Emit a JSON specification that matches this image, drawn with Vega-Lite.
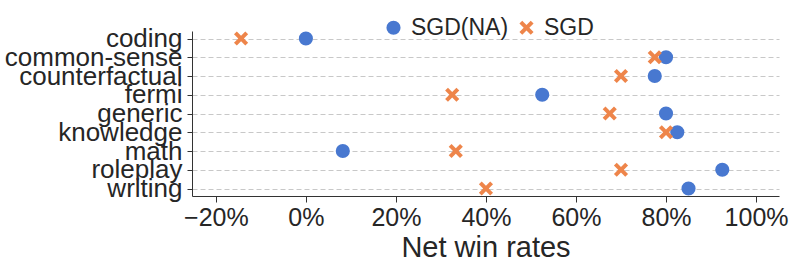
{
  "$schema": "https://vega.github.io/schema/vega-lite/v6.json",
  "width": 587,
  "height": 165,
  "autosize": {"type": "none"},
  "padding": {"left": 192, "top": 31, "right": 10, "bottom": 67},
  "background": "white",
  "config": {
    "font": "Liberation Sans",
    "view": {"stroke": null},
    "axis": {"labelColor": "#262626", "titleColor": "#262626", "domainColor": "#333333", "tickColor": "#333333"}
  },
  "data": {
    "values": [
      {"category": "coding", "method": "SGD(NA)", "rate": 0.0},
      {"category": "coding", "method": "SGD", "rate": -0.144},
      {"category": "common-sense", "method": "SGD(NA)", "rate": 0.80},
      {"category": "common-sense", "method": "SGD", "rate": 0.775},
      {"category": "counterfactual", "method": "SGD(NA)", "rate": 0.775},
      {"category": "counterfactual", "method": "SGD", "rate": 0.70},
      {"category": "fermi", "method": "SGD(NA)", "rate": 0.525},
      {"category": "fermi", "method": "SGD", "rate": 0.325},
      {"category": "generic", "method": "SGD(NA)", "rate": 0.80},
      {"category": "generic", "method": "SGD", "rate": 0.675},
      {"category": "knowledge", "method": "SGD(NA)", "rate": 0.825},
      {"category": "knowledge", "method": "SGD", "rate": 0.80},
      {"category": "math", "method": "SGD(NA)", "rate": 0.082},
      {"category": "math", "method": "SGD", "rate": 0.333},
      {"category": "roleplay", "method": "SGD(NA)", "rate": 0.925},
      {"category": "roleplay", "method": "SGD", "rate": 0.70},
      {"category": "writing", "method": "SGD(NA)", "rate": 0.85},
      {"category": "writing", "method": "SGD", "rate": 0.40}
    ]
  },
  "mark": {"type": "point", "filled": true, "opacity": 1, "strokeWidth": 0, "size": 200},
  "encoding": {
    "x": {
      "field": "rate", "type": "quantitative",
      "scale": {"domain": [-0.253, 1.051], "nice": false, "zero": false},
      "axis": {
        "values": [-0.2, 0, 0.2, 0.4, 0.6, 0.8, 1.0],
        "format": ".0%",
        "title": "Net win rates",
        "grid": false,
        "labelFontSize": 25,
        "titleFontSize": 29,
        "titleFontWeight": "normal",
        "tickSize": 6,
        "labelPadding": 3,
        "titlePadding": 3
      }
    },
    "y": {
      "field": "category", "type": "nominal",
      "sort": ["coding", "common-sense", "counterfactual", "fermi", "generic", "knowledge", "math", "roleplay", "writing"],
      "scale": {"padding": 0.4},
      "axis": {
        "title": null,
        "labelFontSize": 26,
        "tickSize": 5,
        "labelPadding": 5,
        "grid": true,
        "gridDash": [5, 3],
        "gridColor": "#c8c8c8",
        "gridWidth": 1
      }
    },
    "color": {
      "field": "method", "type": "nominal",
      "scale": {"domain": ["SGD(NA)", "SGD"], "range": ["#4878d0", "#ee854a"]},
      "legend": {
        "title": null,
        "orient": "none",
        "direction": "horizontal",
        "legendX": 190,
        "legendY": -15,
        "labelFontSize": 23,
        "labelColor": "#262626",
        "labelOffset": 6,
        "columnPadding": 6,
        "padding": 0,
        "symbolSize": 200,
        "symbolStrokeWidth": 0,
        "symbolOpacity": 1
      }
    },
    "shape": {
      "field": "method", "type": "nominal",
      "scale": {"domain": ["SGD(NA)", "SGD"], "range": ["circle", "M-1,-0.6L-0.6,-1L0,-0.4L0.6,-1L1,-0.6L0.4,0L1,0.6L0.6,1L0,0.4L-0.6,1L-1,0.6L-0.4,0Z"]}
    }
  }
}
